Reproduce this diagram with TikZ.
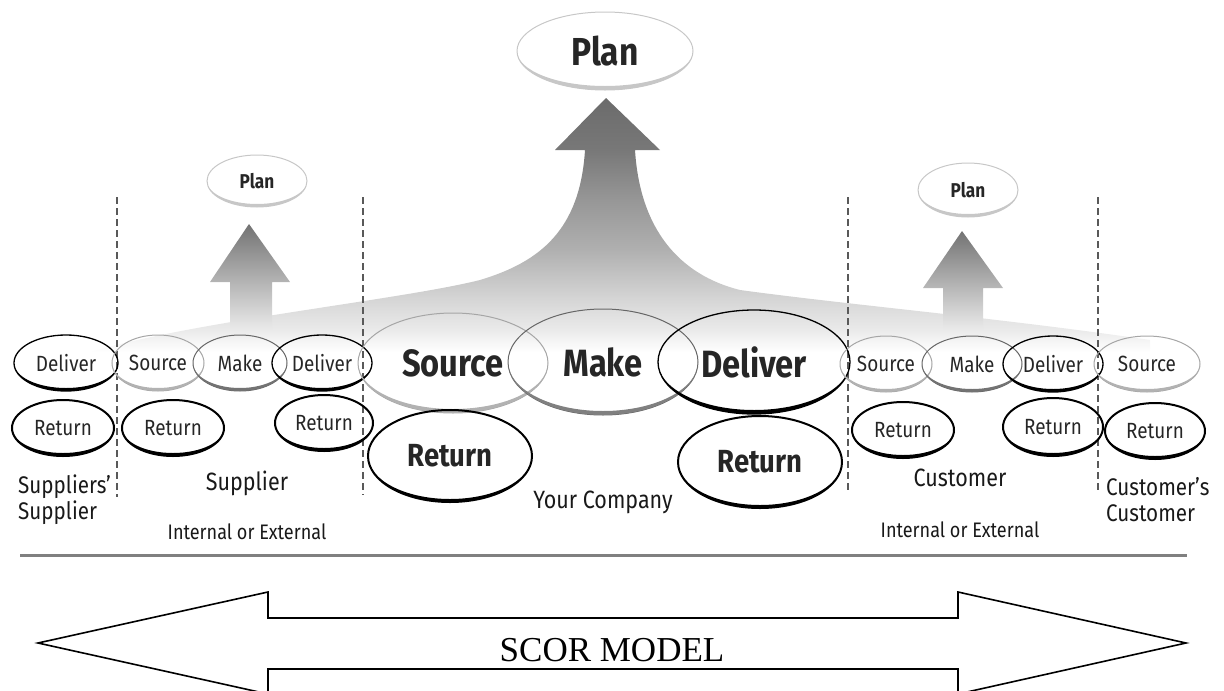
\documentclass[tikz,border=0pt]{standalone}
\usepackage{fontspec}
\setmainfont{Fira Sans}[FakeStretch=0.86]
\newfontfamily\serf{Liberation Serif}
\usetikzlibrary{shapes.geometric}

\pgfdeclareverticalshading{wingshade}{100bp}{color(0bp)=(white); color(25bp)=(white); color(29.3bp)=(black!8); color(35.2bp)=(black!16); color(45.1bp)=(black!31); color(55bp)=(black!41); color(64.8bp)=(black!53); color(75bp)=(black!58); color(100bp)=(black!58)}

\newcommand\ovl[9]{%
  \node[ellipse, inner sep=0pt, text=black!85, minimum width={2*#4pt}, minimum height={2*#5pt}, #6] (#1) at (#2,#3) {#9};
  \fill[#7] (#1.center) ++(180:#4pt and #5pt) arc[start angle=180,end angle=360,x radius=#4pt,y radius=#5pt] arc[start angle=0,end angle=-180,x radius=#4pt,y radius={#5pt-#8pt}];
}
\newcommand\fbig{\bfseries\fontsize{38}{40}\selectfont}
\newcommand\fret{\bfseries\fontsize{32}{36}\selectfont}
\newcommand\fsm{\fontsize{22}{24}\selectfont}
\newcommand\fsplan{\bfseries\fontsize{20}{24}\selectfont}
\newcommand\fplan{\bfseries\fontsize{39}{40}\selectfont}
\newcommand\flab{\fontsize{25}{27}\selectfont}
\newcommand\ftwo{\fontsize{24}{26}\selectfont}
\newcommand\fie{\fontsize{21}{22}\selectfont}

\tikzset{
  olB/.style={draw=black, line width=1.3pt},
  olG/.style={draw=black!60, line width=1pt},
  olL/.style={draw=black!35, line width=1pt},
  olR/.style={draw=black, line width=2pt},
  olP/.style={draw=black!22, line width=1pt},
  divider/.style={draw=black!65, line width=1.3pt, dash pattern=on 7pt off 4pt},
  rule/.style={draw=black!50, line width=3pt},
  grouplabel/.style={text=black!90, inner sep=0pt},
  scorarrow/.style={draw=black, line width=1.6pt, line join=miter},
}

\begin{document}
\begin{tikzpicture}[x=1pt,y=-1pt]
\useasboundingbox (0,0) rectangle (1224,691);

% big arrow with wings
\shade[shading=wingshade] (90,352) .. controls (200,320) and (400,300) .. (480,280)
  .. controls (540,262) and (580,230) .. (585,150) -- (555,150) -- (606,98) -- (660,150) -- (635,150)
  .. controls (640,230) and (680,275) .. (740,290) .. controls (850,305) and (1000,318) .. (1150,340)
  -- (1150,352) -- cycle;
% small arrows
\shade[top color=black!55, bottom color=black!8] (249,224) -- (290,282) -- (272,282) -- (272,330) -- (230,330) -- (230,282) -- (210,282) -- cycle;
\shade[top color=black!55, bottom color=black!8] (962,231) -- (1003,288) -- (983,288) -- (983,330) -- (943,330) -- (943,288) -- (923,288) -- cycle;

% dividers
\coordinate (d1t) at (117,197); \coordinate (d1b) at (117,497);
\coordinate (d2t) at (363,197); \coordinate (d2b) at (363,495);
\coordinate (d3t) at (848,197); \coordinate (d3b) at (848,493);
\coordinate (d4t) at (1098,197); \coordinate (d4b) at (1098,490);
\draw[divider] (d1t) -- (d1b);
\draw[divider] (d2t) -- (d2b);
\draw[divider] (d3t) -- (d3b);
\draw[divider] (d4t) -- (d4b);

% plans
\ovl{plan}{605}{51}{88}{39}{olP}{black!22}{4}{\fplan Plan}
\ovl{splan}{257}{181}{50}{26}{olP}{black!22}{3}{\fsplan Plan}
\ovl{cplan}{968}{190}{50}{27}{olP}{black!22}{3}{\fsplan Plan}

% suppliers' supplier
\ovl{ssD}{66}{363}{52}{28}{olB}{black}{3}{\fsm Deliver}
\ovl{ssR}{63}{428}{51}{28}{olR}{black}{3}{\fsm Return}
% supplier
\ovl{sS}{158}{363}{46}{28}{olL}{black!30}{3}{\fsm Source}
\ovl{sM}{240}{363}{47}{28}{olG}{black!55}{3}{\fsm Make}
\ovl{sD}{322}{363}{50}{28}{olB}{black}{3}{\fsm Deliver}
\ovl{sR1}{173}{428}{51}{28}{olR}{black}{3}{\fsm Return}
\ovl{sR2}{324}{423}{49}{28}{olR}{black}{3}{\fsm Return}
% your company
\ovl{S}{453}{363}{95}{50}{olL}{black!30}{4}{\fbig Source}
\ovl{M}{603}{362}{95}{53}{olG}{black!50}{4}{\fbig Make}
\ovl{D}{754}{362}{96}{52}{olB}{black}{4}{\fbig Deliver}
\ovl{R1}{450}{456}{82}{46}{olR}{black}{3}{\fret Return}
\ovl{R2}{760}{462}{82}{46}{olR}{black}{3}{\fret Return}
% customer
\ovl{cS}{886}{364}{46}{28}{olL}{black!30}{3}{\fsm Source}
\ovl{cM}{972}{364}{50}{28}{olG}{black!55}{3}{\fsm Make}
\ovl{cD}{1053}{364}{50}{28}{olB}{black}{3}{\fsm Deliver}
\ovl{cR1}{903}{430}{51}{28}{olR}{black}{3}{\fsm Return}
\ovl{cR2}{1053}{427}{50}{29}{olR}{black}{3}{\fsm Return}
% customer's customer
\ovl{ccS}{1147}{364}{53}{28}{olL}{black!30}{3}{\fsm Source}
\ovl{ccR}{1155}{431}{50}{28}{olR}{black}{3}{\fsm Return}

% group labels
\node[grouplabel, align=left, anchor=west, font=\ftwo] (ssl) at (18,500) {Suppliers’\\Supplier};
\node[grouplabel, font=\flab] (sl) at (247,483) {Supplier};
\node[grouplabel, font=\fie] (sie) at (247,532) {Internal or External};
\node[grouplabel, font=\flab] (yc) at (603,502) {Your Company};
\node[grouplabel, font=\flab] (cl) at (960,478) {Customer};
\node[grouplabel, font=\fie] (cie) at (960,530) {Internal or External};
\node[grouplabel, align=left, anchor=west, font=\ftwo] (ccl) at (1106,500) {Customer’s\\Customer};

% rule
\coordinate (rl) at (20,555); \coordinate (rr) at (1187,555);
\draw[rule] (rl) -- (rr);

% SCOR arrow
\draw[scorarrow] (38,643) -- (268,592) -- (268,618) -- (958,618) -- (958,592) -- (1186,643)
  -- (958,694) -- (958,669) -- (268,669) -- (268,694) -- cycle;
\node[inner sep=0pt] (scor) at (612,650) {\serf\fontsize{35}{36}\selectfont SCOR MODEL};
\end{tikzpicture}
\end{document}
